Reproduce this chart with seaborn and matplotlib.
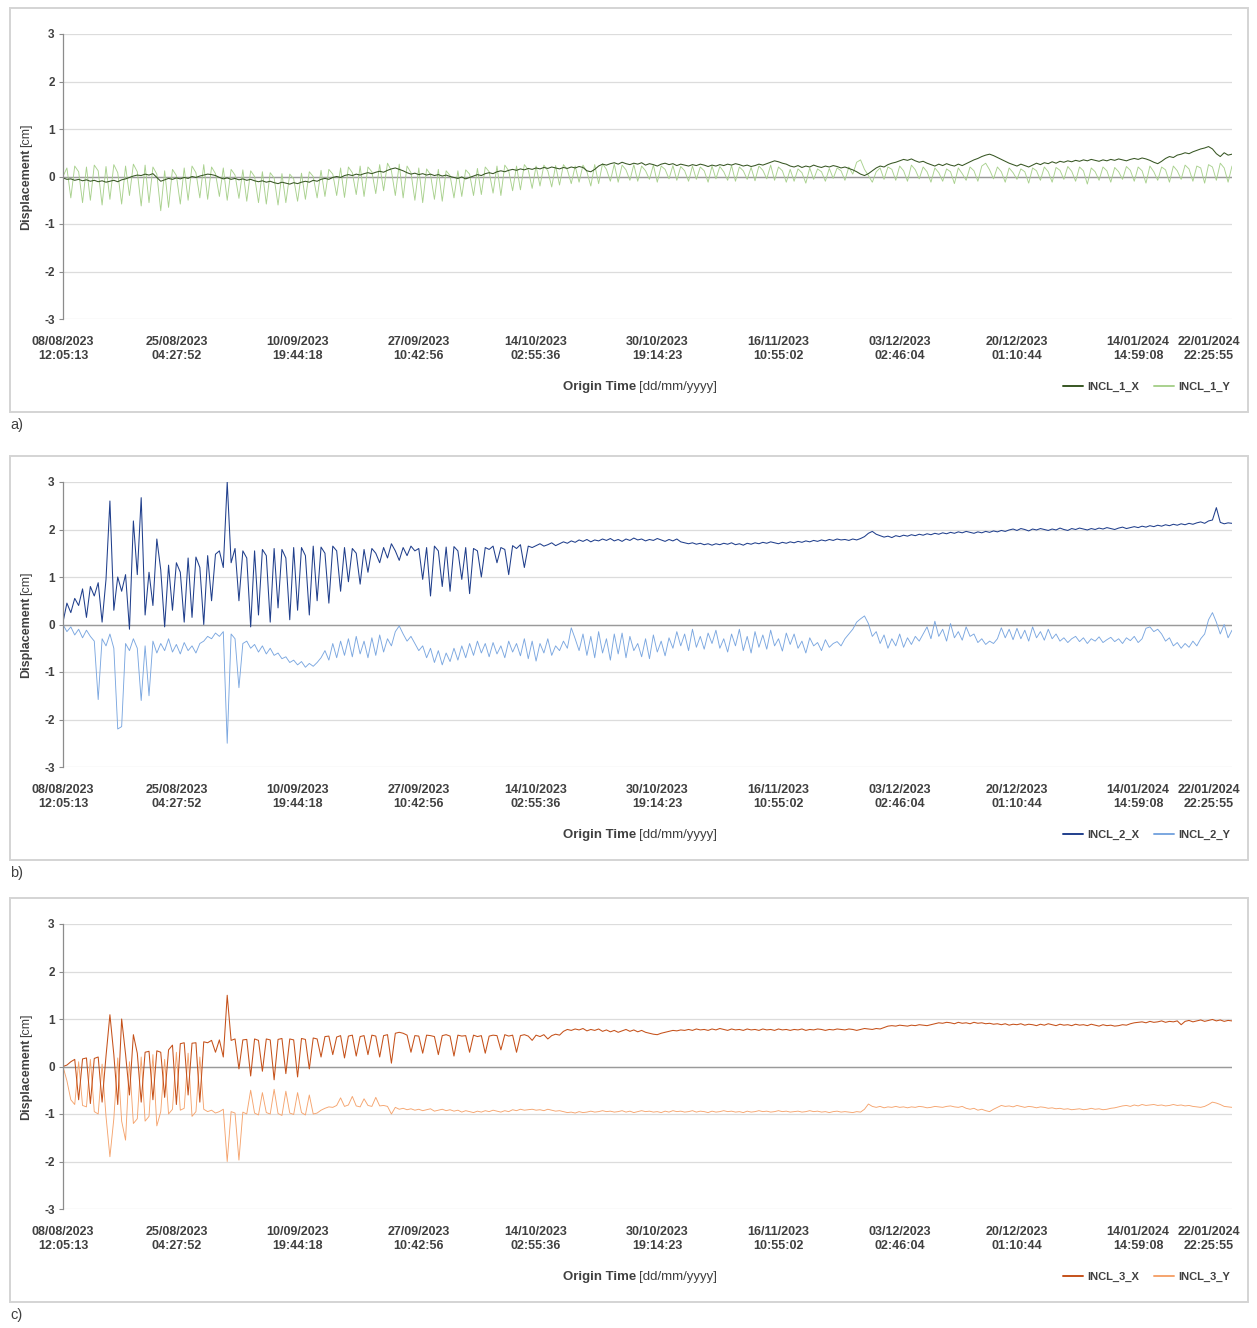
import numpy as np
import matplotlib
matplotlib.use("Agg")
import matplotlib.pyplot as plt
from matplotlib.patches import Rectangle
import seaborn as sns

# x axis: category style axis, labels sit at these sample indices
tick_idx = [0, 29, 60, 91, 121, 152, 183, 214, 244, 275, 293]
tick_labels = ["08/08/2023\n12:05:13", "25/08/2023\n04:27:52", "10/09/2023\n19:44:18",
               "27/09/2023\n10:42:56", "14/10/2023\n02:55:36", "30/10/2023\n19:14:23",
               "16/11/2023\n10:55:02", "03/12/2023\n02:46:04", "20/12/2023\n01:10:44",
               "14/01/2024\n14:59:08", "22/01/2024\n22:25:55"]

# displacement readings [cm] (300 samples per series)
incl_1_x = [
    -0.03, -0.06, -0.05, -0.08, -0.06, -0.09, -0.07, -0.10, -0.08, -0.11, -0.09, -0.12, -0.10, -0.08, -0.11, -0.07, -0.05, -0.02, 0.01, 0.03,
    0.02, 0.05, 0.03, 0.06, -0.02, -0.10, -0.07, -0.04, -0.06, -0.03, -0.05, -0.02, -0.04, 0.00, -0.02, 0.01, 0.03, 0.05, 0.04, 0.02,
    -0.02, -0.05, -0.03, -0.06, -0.04, -0.07, -0.05, -0.08, -0.06, -0.09, -0.11, -0.09, -0.12, -0.10, -0.13, -0.15, -0.12, -0.14, -0.16, -0.13,
    -0.15, -0.12, -0.10, -0.12, -0.08, -0.10, -0.06, -0.04, -0.06, -0.02, 0.00, -0.02, 0.02, 0.04, 0.02, 0.05, 0.03, 0.06, 0.08, 0.06,
    0.09, 0.11, 0.09, 0.13, 0.16, 0.18, 0.15, 0.12, 0.08, 0.05, 0.07, 0.04, 0.06, 0.03, 0.05, 0.02, 0.04, 0.01, 0.03, 0.00,
    -0.02, -0.04, -0.01, -0.05, -0.02, 0.01, 0.04, 0.02, 0.06, 0.08, 0.06, 0.10, 0.12, 0.10, 0.13, 0.15, 0.13, 0.16, 0.14, 0.17,
    0.15, 0.18, 0.16, 0.19, 0.17, 0.20, 0.18, 0.16, 0.19, 0.17, 0.20, 0.18, 0.21, 0.19, 0.12, 0.10, 0.15, 0.22, 0.26, 0.24,
    0.27, 0.29, 0.26, 0.30, 0.27, 0.25, 0.28, 0.26, 0.29, 0.24, 0.27, 0.25, 0.22, 0.26, 0.28, 0.25, 0.27, 0.23, 0.26, 0.24,
    0.22, 0.25, 0.23, 0.26, 0.24, 0.21, 0.24, 0.22, 0.25, 0.23, 0.26, 0.24, 0.27, 0.25, 0.22, 0.24, 0.21, 0.23, 0.26, 0.24,
    0.27, 0.30, 0.33, 0.31, 0.28, 0.26, 0.22, 0.20, 0.23, 0.19, 0.22, 0.20, 0.24, 0.21, 0.19, 0.22, 0.20, 0.23, 0.21, 0.18,
    0.20, 0.17, 0.14, 0.10, 0.05, 0.02, 0.06, 0.12, 0.18, 0.22, 0.20, 0.25, 0.28, 0.30, 0.33, 0.36, 0.34, 0.37, 0.33, 0.30,
    0.32, 0.28, 0.25, 0.22, 0.26, 0.23, 0.27, 0.24, 0.22, 0.26, 0.23, 0.27, 0.31, 0.35, 0.38, 0.42, 0.45, 0.47, 0.44, 0.40,
    0.36, 0.32, 0.28, 0.25, 0.22, 0.26, 0.23, 0.20, 0.24, 0.28, 0.25, 0.29, 0.27, 0.31, 0.28, 0.32, 0.30, 0.33, 0.31, 0.34,
    0.32, 0.35, 0.33, 0.36, 0.34, 0.32, 0.35, 0.33, 0.36, 0.34, 0.37, 0.35, 0.33, 0.36, 0.38, 0.36, 0.39, 0.37, 0.34, 0.30,
    0.27, 0.32, 0.38, 0.42, 0.40, 0.45, 0.47, 0.50, 0.48, 0.52, 0.55, 0.58, 0.60, 0.63, 0.58, 0.48, 0.42, 0.50, 0.45, 0.47,
]
incl_1_y = [
    0.00, 0.18, -0.45, 0.22, 0.10, -0.55, 0.20, -0.50, 0.24, 0.12, -0.60, 0.21, -0.48, 0.25, 0.08, -0.58, 0.22, -0.40, 0.26, 0.10,
    -0.62, 0.24, -0.55, 0.20, 0.05, -0.72, 0.12, -0.65, 0.15, 0.02, -0.58, 0.18, -0.50, 0.22, 0.08, -0.45, 0.25, -0.48, 0.20, 0.06,
    -0.42, 0.18, -0.50, 0.15, 0.03, -0.46, 0.14, -0.52, 0.12, 0.00, -0.55, 0.10, -0.58, 0.08, -0.03, -0.60, 0.06, -0.55, 0.05, -0.05,
    -0.52, 0.07, -0.48, 0.10, 0.00, -0.45, 0.13, -0.42, 0.15, 0.05, -0.40, 0.18, -0.44, 0.20, 0.08, -0.38, 0.22, -0.42, 0.20, 0.10,
    -0.36, 0.25, -0.30, 0.28, 0.12, -0.40, 0.26, -0.45, 0.22, 0.08, -0.50, 0.18, -0.55, 0.16, 0.04, -0.48, 0.15, -0.52, 0.12, 0.02,
    -0.45, 0.12, -0.42, 0.14, 0.05, -0.40, 0.17, -0.38, 0.20, 0.10, -0.35, 0.22, -0.40, 0.24, 0.12, -0.30, 0.22, -0.28, 0.25, 0.14,
    -0.25, 0.22, -0.20, 0.24, 0.12, -0.22, 0.23, -0.18, 0.25, 0.14, -0.15, 0.22, -0.12, 0.24, 0.10, -0.20, 0.25, -0.15, 0.27, 0.15,
    -0.10, 0.26, -0.12, 0.24, 0.14, -0.08, 0.25, -0.10, 0.22, 0.12, -0.06, 0.24, -0.12, 0.22, 0.15, -0.05, 0.23, -0.08, 0.21, 0.12,
    -0.10, 0.22, -0.06, 0.20, 0.12, -0.12, 0.22, -0.05, 0.21, 0.10, -0.08, 0.23, -0.10, 0.20, 0.12, -0.06, 0.19, -0.09, 0.22, 0.13,
    -0.05, 0.24, -0.08, 0.20, 0.12, -0.12, 0.15, -0.10, 0.16, 0.08, -0.14, 0.18, -0.06, 0.16, 0.10, -0.10, 0.17, -0.04, 0.18, 0.12,
    -0.08, 0.20, 0.05, 0.30, 0.35, 0.15, 0.02, -0.12, 0.10, 0.18, -0.06, 0.20, 0.15, -0.08, 0.22, 0.12, -0.10, 0.24, 0.14, -0.05,
    0.20, 0.10, -0.12, 0.18, 0.08, -0.10, 0.16, 0.10, -0.15, 0.18, 0.06, -0.08, 0.20, 0.12, -0.10, 0.22, 0.28, 0.14, -0.05, 0.20,
    0.10, -0.12, 0.18, 0.08, -0.06, 0.16, 0.10, -0.14, 0.18, 0.12, -0.08, 0.20, 0.10, -0.12, 0.19, 0.13, -0.06, 0.21, 0.11, -0.10,
    0.20, 0.12, -0.16, 0.18, 0.10, -0.08, 0.20, 0.12, -0.12, 0.19, 0.10, -0.06, 0.21, 0.13, -0.10, 0.20, 0.12, -0.14, 0.22, 0.10,
    -0.08, 0.20, 0.14, -0.12, 0.22, 0.12, -0.06, 0.24, 0.16, -0.10, 0.22, 0.18, -0.14, 0.25, 0.20, -0.08, 0.28, 0.18, -0.12, 0.22,
]
incl_2_x = [
    0.05, 0.45, 0.25, 0.55, 0.40, 0.75, 0.15, 0.80, 0.60, 0.88, 0.05, 0.95, 2.60, 0.30, 1.00, 0.70, 1.05, -0.10, 2.18, 1.05,
    2.67, 0.20, 1.10, 0.40, 1.80, 1.15, -0.05, 1.25, 0.30, 1.30, 1.10, 0.05, 1.40, 0.15, 1.42, 1.20, 0.00, 1.45, 0.50, 1.48,
    1.55, 1.20, 3.00, 1.30, 1.60, 0.50, 1.55, 1.40, -0.05, 1.55, 0.20, 1.58, 1.45, 0.05, 1.60, 0.35, 1.58, 1.40, 0.10, 1.62,
    0.30, 1.62, 1.45, 0.20, 1.65, 0.50, 1.63, 1.50, 0.45, 1.65, 1.55, 0.70, 1.62, 0.90, 1.60, 1.50, 0.85, 1.58, 1.10, 1.60,
    1.50, 1.30, 1.62, 1.40, 1.70, 1.55, 1.35, 1.62, 1.45, 1.65, 1.55, 1.60, 0.95, 1.62, 0.60, 1.65, 1.55, 0.80, 1.63, 0.70,
    1.64, 1.55, 0.95, 1.62, 0.65, 1.60, 1.55, 1.00, 1.62, 1.58, 1.65, 1.30, 1.62, 1.58, 1.05, 1.66, 1.60, 1.68, 1.20, 1.65,
    1.62, 1.66, 1.70, 1.65, 1.68, 1.72, 1.66, 1.70, 1.74, 1.71, 1.76, 1.73, 1.78, 1.75, 1.79, 1.74, 1.78, 1.76, 1.80, 1.77,
    1.81, 1.76, 1.79, 1.75, 1.80, 1.77, 1.82, 1.78, 1.80, 1.76, 1.79, 1.77, 1.81, 1.78, 1.75, 1.79, 1.76, 1.80, 1.74, 1.72,
    1.70, 1.72, 1.69, 1.71, 1.68, 1.70, 1.67, 1.70, 1.68, 1.71, 1.69, 1.72, 1.68, 1.70, 1.67, 1.71, 1.69, 1.72, 1.70, 1.73,
    1.71, 1.74, 1.72, 1.70, 1.73, 1.71, 1.74, 1.72, 1.75, 1.73, 1.76, 1.74, 1.77, 1.75, 1.78, 1.76, 1.79, 1.77, 1.80, 1.78,
    1.79, 1.77, 1.80, 1.78, 1.81, 1.85, 1.92, 1.96, 1.90, 1.87, 1.84, 1.86, 1.83, 1.87, 1.85, 1.88, 1.86, 1.89, 1.87, 1.90,
    1.88, 1.91, 1.89, 1.92, 1.90, 1.93, 1.91, 1.94, 1.92, 1.95, 1.93, 1.96, 1.94, 1.92, 1.95, 1.93, 1.96, 1.94, 1.97, 1.95,
    1.98, 1.96, 1.99, 2.01, 1.98, 2.02, 2.00, 1.97, 2.01, 1.99, 2.02, 2.00, 1.98, 2.01, 1.99, 2.03, 2.00, 1.98, 2.02, 2.00,
    2.03, 2.01, 1.99, 2.02, 2.00, 2.03, 2.01, 2.04, 2.02, 2.00, 2.03, 2.05, 2.02, 2.04, 2.06, 2.04, 2.07, 2.05, 2.08, 2.06,
    2.09, 2.07, 2.10, 2.08, 2.11, 2.09, 2.12, 2.10, 2.13, 2.11, 2.14, 2.16, 2.13, 2.18, 2.20, 2.46, 2.15, 2.12, 2.14, 2.13,
]
incl_2_y = [
    0.00, -0.15, -0.05, -0.22, -0.10, -0.28, -0.12, -0.25, -0.35, -1.58, -0.30, -0.45, -0.20, -0.50, -2.20, -2.15, -0.40, -0.55, -0.30, -0.50,
    -1.60, -0.45, -1.50, -0.35, -0.60, -0.40, -0.55, -0.30, -0.58, -0.42, -0.62, -0.38, -0.55, -0.45, -0.60, -0.40, -0.35, -0.25, -0.30, -0.18,
    -0.25, -0.15, -2.50, -0.20, -0.30, -1.33, -0.40, -0.35, -0.50, -0.42, -0.58, -0.45, -0.62, -0.50, -0.65, -0.60, -0.72, -0.68, -0.80, -0.75,
    -0.85, -0.78, -0.90, -0.82, -0.88, -0.80, -0.70, -0.55, -0.75, -0.40, -0.70, -0.35, -0.65, -0.30, -0.68, -0.25, -0.62, -0.35, -0.70, -0.28,
    -0.65, -0.22, -0.58, -0.30, -0.45, -0.15, -0.03, -0.20, -0.35, -0.25, -0.40, -0.55, -0.45, -0.70, -0.50, -0.80, -0.55, -0.85, -0.60, -0.78,
    -0.50, -0.75, -0.45, -0.70, -0.40, -0.65, -0.35, -0.60, -0.40, -0.68, -0.38, -0.62, -0.45, -0.70, -0.35, -0.58, -0.40, -0.66, -0.30, -0.72,
    -0.35, -0.77, -0.40, -0.60, -0.30, -0.65, -0.45, -0.55, -0.35, -0.50, -0.07, -0.30, -0.55, -0.20, -0.65, -0.25, -0.70, -0.15, -0.60, -0.30,
    -0.75, -0.20, -0.62, -0.18, -0.70, -0.25, -0.55, -0.40, -0.68, -0.30, -0.72, -0.22, -0.58, -0.35, -0.66, -0.28, -0.50, -0.15, -0.45, -0.20,
    -0.55, -0.10, -0.48, -0.25, -0.52, -0.18, -0.40, -0.12, -0.50, -0.30, -0.58, -0.20, -0.45, -0.10, -0.55, -0.25, -0.60, -0.15, -0.48, -0.22,
    -0.52, -0.12, -0.45, -0.30, -0.56, -0.18, -0.42, -0.20, -0.50, -0.35, -0.60, -0.28, -0.45, -0.38, -0.55, -0.32, -0.48, -0.40, -0.36, -0.45,
    -0.30, -0.20, -0.10, 0.05, 0.12, 0.18, 0.02, -0.25, -0.15, -0.40, -0.22, -0.50, -0.30, -0.45, -0.20, -0.48, -0.28, -0.42, -0.25, -0.35,
    -0.20, -0.05, -0.30, 0.07, -0.25, -0.10, -0.35, 0.02, -0.28, -0.15, -0.33, -0.05, -0.25, -0.20, -0.38, -0.30, -0.42, -0.35, -0.40, -0.30,
    -0.07, -0.28, -0.10, -0.32, -0.08, -0.30, -0.12, -0.35, -0.05, -0.28, -0.15, -0.33, -0.10, -0.30, -0.20, -0.35, -0.28, -0.38, -0.30, -0.25,
    -0.36, -0.28, -0.40, -0.30, -0.35, -0.26, -0.38, -0.32, -0.27, -0.36, -0.30, -0.40, -0.28, -0.34, -0.25, -0.38, -0.30, -0.08, -0.05, -0.15,
    -0.10, -0.20, -0.35, -0.28, -0.45, -0.38, -0.50, -0.40, -0.48, -0.35, -0.45, -0.30, -0.20, 0.10, 0.25, 0.05, -0.20, 0.00, -0.28, -0.12,
]
incl_3_x = [
    0.00, 0.03, 0.10, 0.15, -0.70, 0.16, 0.18, -0.78, 0.17, 0.20, -0.75, 0.22, 1.09, 0.25, -0.80, 1.00, 0.26, -0.60, 0.67, 0.28,
    -0.75, 0.30, 0.32, -0.70, 0.33, 0.30, -0.65, 0.35, 0.45, -0.80, 0.48, 0.50, -0.60, 0.49, 0.50, -0.75, 0.52, 0.50, 0.55, 0.30,
    0.56, 0.20, 1.50, 0.55, 0.58, -0.05, 0.56, 0.57, -0.20, 0.58, 0.55, -0.10, 0.58, 0.56, -0.28, 0.57, 0.59, -0.15, 0.58, 0.56,
    -0.22, 0.59, 0.57, -0.05, 0.60, 0.58, 0.20, 0.63, 0.64, 0.25, 0.62, 0.65, 0.18, 0.64, 0.66, 0.22, 0.63, 0.65, 0.25, 0.66,
    0.64, 0.20, 0.65, 0.67, 0.07, 0.70, 0.72, 0.70, 0.66, 0.30, 0.65, 0.64, 0.28, 0.66, 0.65, 0.63, 0.25, 0.65, 0.67, 0.64,
    0.22, 0.66, 0.64, 0.65, 0.30, 0.66, 0.63, 0.65, 0.28, 0.64, 0.66, 0.65, 0.35, 0.67, 0.64, 0.66, 0.30, 0.65, 0.67, 0.64,
    0.55, 0.66, 0.63, 0.67, 0.58, 0.65, 0.68, 0.66, 0.74, 0.78, 0.76, 0.79, 0.77, 0.80, 0.75, 0.78, 0.76, 0.79, 0.74, 0.77,
    0.73, 0.76, 0.72, 0.75, 0.78, 0.74, 0.77, 0.73, 0.76, 0.72, 0.70, 0.68, 0.67, 0.70, 0.72, 0.74, 0.76, 0.75, 0.77, 0.76,
    0.78, 0.76, 0.79, 0.77, 0.78, 0.76, 0.79, 0.77, 0.80, 0.78, 0.76, 0.79, 0.77, 0.78, 0.76, 0.79, 0.77, 0.78, 0.76, 0.79,
    0.77, 0.78, 0.76, 0.79, 0.77, 0.78, 0.76, 0.78, 0.77, 0.79, 0.76, 0.78, 0.77, 0.79, 0.78, 0.76, 0.78, 0.77, 0.79, 0.78,
    0.77, 0.79, 0.78, 0.76, 0.78, 0.80, 0.79, 0.78, 0.80, 0.79, 0.82, 0.85, 0.86, 0.85, 0.87, 0.86, 0.85, 0.87, 0.86, 0.88,
    0.87, 0.86, 0.88, 0.90, 0.92, 0.91, 0.93, 0.92, 0.90, 0.93, 0.91, 0.92, 0.90, 0.93, 0.91, 0.92, 0.90, 0.91, 0.89, 0.90,
    0.88, 0.90, 0.87, 0.89, 0.88, 0.90, 0.87, 0.89, 0.88, 0.86, 0.89, 0.87, 0.90, 0.88, 0.86, 0.89, 0.87, 0.88, 0.86, 0.89,
    0.87, 0.88, 0.86, 0.89, 0.87, 0.85, 0.88, 0.86, 0.87, 0.85, 0.86, 0.88, 0.87, 0.90, 0.92, 0.93, 0.94, 0.92, 0.95, 0.93,
    0.94, 0.96, 0.93, 0.95, 0.94, 0.96, 0.88, 0.95, 0.97, 0.94, 0.96, 0.98, 0.95, 0.97, 0.99, 0.96, 0.98, 0.95, 0.97, 0.96,
]
incl_3_y = [
    0.00, -0.30, -0.70, -0.80, 0.10, -0.82, -0.85, 0.15, -0.95, -1.00, 0.05, -1.05, -1.90, -1.10, 0.18, -1.15, -1.55, 0.10, -1.20, -1.10,
    0.20, -1.15, -1.05, 0.25, -1.25, -0.95, 0.15, -1.00, -0.90, 0.30, -0.92, -0.88, 0.28, -1.05, -0.95, 0.20, -0.90, -0.95, -0.92, -0.98,
    -0.95, -0.90, -2.00, -0.95, -0.98, -1.97, -0.96, -1.00, -0.50, -0.98, -1.02, -0.55, -0.97, -1.00, -0.48, -0.99, -1.03, -0.52, -0.98, -1.01,
    -0.55, -0.97, -1.02, -0.60, -1.00, -0.98, -0.92, -0.88, -0.85, -0.86, -0.82, -0.66, -0.84, -0.81, -0.63, -0.83, -0.85, -0.68, -0.82, -0.84,
    -0.65, -0.83, -0.82, -0.84, -1.00, -0.86, -0.90, -0.88, -0.91, -0.89, -0.92, -0.90, -0.93, -0.91, -0.89, -0.94, -0.92, -0.90, -0.93, -0.91,
    -0.94, -0.92, -0.96, -0.93, -0.95, -0.97, -0.94, -0.96, -0.93, -0.95, -0.92, -0.94, -0.96, -0.93, -0.95, -0.91, -0.93, -0.90, -0.92, -0.91,
    -0.90, -0.92, -0.91, -0.93, -0.90, -0.92, -0.94, -0.93, -0.95, -0.97, -0.96, -0.98, -0.95, -0.97, -0.96, -0.94, -0.96, -0.95, -0.93, -0.95,
    -0.94, -0.96, -0.95, -0.93, -0.96, -0.94, -0.97, -0.95, -0.93, -0.95, -0.94, -0.96, -0.95, -0.97, -0.94, -0.96, -0.93, -0.95, -0.94, -0.96,
    -0.95, -0.93, -0.96, -0.94, -0.95, -0.97, -0.94, -0.96, -0.95, -0.93, -0.95, -0.94, -0.96, -0.95, -0.97, -0.94, -0.96, -0.95, -0.93, -0.95,
    -0.94, -0.96, -0.95, -0.93, -0.95, -0.94, -0.96, -0.95, -0.94, -0.96, -0.95, -0.93, -0.95, -0.94, -0.96, -0.95, -0.97, -0.95, -0.94, -0.96,
    -0.95, -0.96, -0.97, -0.95, -0.96, -0.90, -0.79, -0.84, -0.86, -0.84, -0.87, -0.85, -0.86, -0.84, -0.86, -0.85, -0.87, -0.85, -0.86, -0.84,
    -0.85, -0.87, -0.86, -0.84, -0.85, -0.86, -0.84, -0.83, -0.85, -0.86, -0.84, -0.88, -0.90, -0.88, -0.92, -0.90, -0.93, -0.95, -0.90, -0.86,
    -0.82, -0.84, -0.83, -0.85, -0.82, -0.84, -0.86, -0.84, -0.85, -0.87, -0.85, -0.86, -0.88, -0.87, -0.89, -0.88, -0.90, -0.89, -0.91, -0.90,
    -0.89, -0.91, -0.90, -0.88, -0.90, -0.89, -0.91, -0.90, -0.88, -0.87, -0.85, -0.83, -0.82, -0.84, -0.81, -0.83, -0.80, -0.82, -0.81, -0.80,
    -0.82, -0.81, -0.83, -0.82, -0.80, -0.82, -0.81, -0.83, -0.82, -0.84, -0.85, -0.86, -0.84, -0.80, -0.75, -0.77, -0.80, -0.84, -0.85, -0.86,
]

panels = [
    ("a)", "INCL_1_X", incl_1_x, "INCL_1_Y", incl_1_y),
    ("b)", "INCL_2_X", incl_2_x, "INCL_2_Y", incl_2_y),
    ("c)", "INCL_3_X", incl_3_x, "INCL_3_Y", incl_3_y),
]
colors = [("#375623", "#a9d18e"), ("#203f8c", "#7ba7e0"), ("#c5511a", "#f5a46e")]

W, H = 1257, 1328


def fx(px):
    return px / W


def fy(py):
    return 1 - py / H


sns.set_style("white")
plt.rcParams['font.family'] = ['Liberation Sans Narrow', 'Liberation Sans', 'DejaVu Sans']
txt = "#404040"

fig = plt.figure(figsize=(W / 100, H / 100), dpi=100)

box_tops = [8, 456, 898]
for k, (tag, nx, vx, ny, vy) in enumerate(panels):
    top = box_tops[k]
    cx, cy = colors[k]

    # outer frame of the chart
    fig.patches.append(Rectangle((fx(10), fy(top + 404)), fx(1248) - fx(10), 404 / H,
                                 transform=fig.transFigure, fill=False,
                                 ec="#d4d4d4", lw=1.4))

    ax = fig.add_axes([fx(63), fy(top + 26 + 285), fx(1232) - fx(63), 285 / H])
    sns.lineplot(x=np.arange(len(vy)), y=vy, ax=ax, color=cy, lw=0.65, label=ny)
    sns.lineplot(x=np.arange(len(vx)), y=vx, ax=ax, color=cx, lw=0.75, label=nx)

    ax.set_xlim(0, len(vx) - 1)
    ax.set_ylim(-3, 3)
    ax.set_yticks(range(-3, 4))
    ax.set_yticklabels([str(v) for v in range(-3, 4)], fontsize=8.5,
                       fontweight="bold", color=txt)
    ax.set_xticks(tick_idx)
    ax.set_xticklabels(tick_labels, fontsize=9, fontweight="bold", color=txt,
                       linespacing=1.3)
    ax.tick_params(axis="x", length=0, pad=12)
    ax.tick_params(axis="y", length=3, width=0.8, color="#8c8c8c", pad=3,
                   direction="out", left=True)
    ax.yaxis.grid(True, color="#dcdcdc", lw=0.9)
    ax.xaxis.grid(False)
    ax.axhline(0, color="#9a9a9a", lw=1.0, zorder=1)
    for s in ["top", "right", "bottom"]:
        ax.spines[s].set_visible(False)
    ax.spines["left"].set_color("#8c8c8c")
    ax.spines["left"].set_linewidth(0.9)
    ax.set_xlabel("")
    ax.set_ylabel("")

    # y label: bold word + plain unit
    fig.text(fx(26), fy(top + 141), "Displacement", rotation=90, ha="center", va="top",
             fontsize=9, fontweight="bold", color=txt)
    fig.text(fx(26), fy(top + 139), "[cm]", rotation=90, ha="center", va="bottom",
             fontsize=9, color=txt)

    # x label
    fig.text(fx(636), fy(top + 379), "Origin Time", ha="right", va="center",
             fontsize=9.5, fontweight="bold", color=txt)
    fig.text(fx(639), fy(top + 379), "[dd/mm/yyyy]", ha="left", va="center",
             fontsize=9.5, color=txt)

    h, l = ax.get_legend_handles_labels()
    ax.legend(h[::-1], l[::-1], loc="center right",
              bbox_to_anchor=(1.0 + 8 / 1169, -(379 - 311) / 285), ncol=2, frameon=False,
              prop={"size": 8, "weight": "bold"}, handlelength=1.8,
              handletextpad=0.4, columnspacing=1.3, labelcolor=txt)
    for line in ax.get_legend().get_lines():
        line.set_linewidth(1.4)

    fig.text(fx(10), fy(top + 417), tag, ha="left", va="center", fontsize=10.5, color=txt)

fig.savefig("out.png", dpi=100)
